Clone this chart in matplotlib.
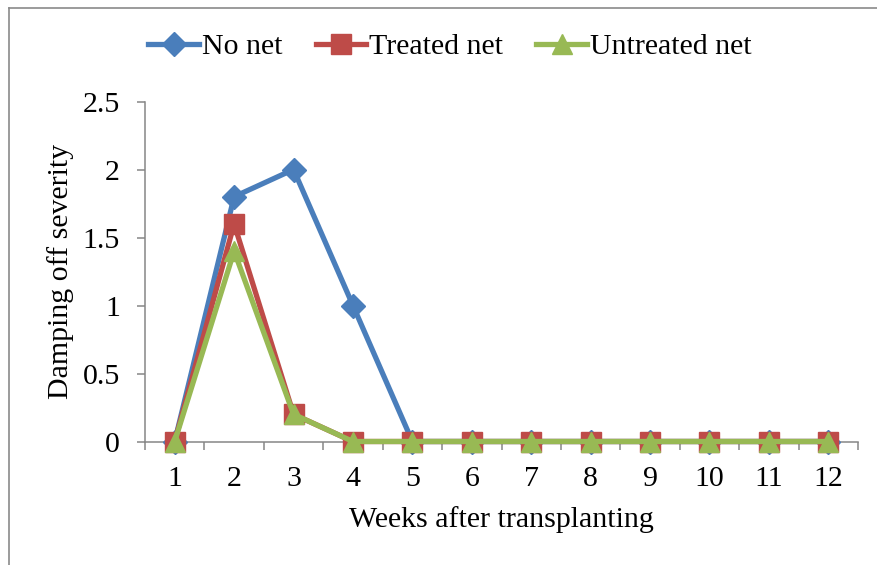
import matplotlib
matplotlib.use("Agg")
import matplotlib.pyplot as plt
from matplotlib.lines import Line2D

plt.rcParams['font.family'] = ['Liberation Serif', 'DejaVu Serif']

weeks = [1, 2, 3, 4, 5, 6, 7, 8, 9, 10, 11, 12]
no_net = [0, 1.8, 2.0, 1.0, 0, 0, 0, 0, 0, 0, 0, 0]
treated_net = [0, 1.6, 0.2, 0, 0, 0, 0, 0, 0, 0, 0, 0]
untreated_net = [0, 1.4, 0.2, 0, 0, 0, 0, 0, 0, 0, 0, 0]
yticks = [0, 0.5, 1, 1.5, 2, 2.5]
ytick_labels = ["0", "0.5", "1", "1.5", "2", "2.5"]

W, H = 877, 565
FS = 21.5
fig = plt.figure(figsize=(W / 100, H / 100), dpi=100)
ax = fig.add_axes([145 / W, 1 - 441.5 / H, (858 - 145) / W, (441.5 - 101.5) / H])

ax.plot(weeks, no_net, color='#4A7EBB', lw=3.8, marker='D', markersize=12, label='No net', zorder=3, clip_on=False)
ax.plot(weeks, treated_net, color='#BE4B48', lw=3.8, marker='s', markersize=14, label='Treated net', zorder=4, clip_on=False)
ax.plot(weeks, untreated_net, color='#98B954', lw=3.8, marker='^', markersize=15, label='Untreated net', zorder=5, clip_on=False)

ax.set_xlim(0.5, 12.5)
ax.set_ylim(0, 2.5)
ax.set_xticks(weeks)
ax.set_xticklabels([str(w) for w in weeks])
ax.set_xticks([w + 0.5 for w in [0] + weeks], minor=True)
ax.set_yticks(yticks)
ax.set_yticklabels(ytick_labels)

for s in ['top', 'right']:
    ax.spines[s].set_visible(False)
for s in ['left', 'bottom']:
    ax.spines[s].set_color('#868686')
    ax.spines[s].set_linewidth(1.1)
    ax.spines[s].set_zorder(2)

ax.tick_params(axis='x', which='major', length=0, labelsize=FS, pad=18)
ax.tick_params(axis='x', which='minor', length=6, width=1.1, color='#868686', direction='out')
ax.tick_params(axis='y', which='major', length=6, width=1.1, color='#868686', labelsize=FS, pad=12)

ax.set_xlabel('Weeks after transplanting', fontsize=FS, labelpad=10)
ax.set_ylabel('Damping off severity', fontsize=FS, labelpad=6)

leg = fig.legend(loc='center', bbox_to_anchor=(450 / W, 1 - 47 / H), ncol=3, frameon=False,
                 fontsize=FS, handlelength=1.7, handletextpad=0.1, columnspacing=1.1)

# Outer border (left and top visible)
fig.add_artist(Line2D([8.5 / W, 8.5 / W], [0, 1 - 8 / H], transform=fig.transFigure, color='#8A8A8A', lw=1.2))
fig.add_artist(Line2D([8.5 / W, 1], [1 - 8 / H, 1 - 8 / H], transform=fig.transFigure, color='#8A8A8A', lw=1.2))

fig.savefig('out.png', dpi=100)
